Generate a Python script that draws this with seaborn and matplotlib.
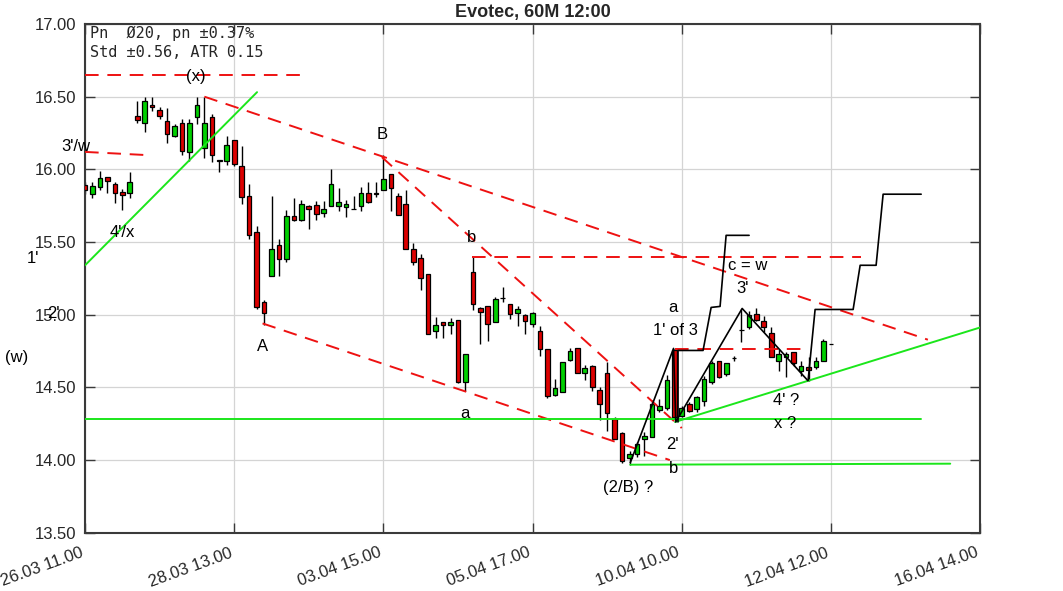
import matplotlib
matplotlib.use("Agg")
import pandas as pd
import matplotlib.pyplot as plt
import seaborn as sns

# 60M candles, bar index 0..100
opens = [15.89, 15.83, 15.88, 15.945, 15.90, 15.845, 15.835, 16.365, 16.32, 16.445,
         16.41, 16.335, 16.23, 16.32, 16.12, 16.36, 16.15, 16.36, 16.065, 16.06,
         16.20, 16.02, 15.82, 15.57, 15.09, 15.265, 15.48, 15.38, 15.68, 15.65,
         15.75, 15.755, 15.70, 15.75, 15.75, 15.74, 15.728, 15.75, 15.84, 15.837,
         15.855, 15.97, 15.815, 15.76, 15.45, 15.39, 15.28, 14.885, 14.947, 14.93,
         14.966, 14.535, 15.297, 15.044, 15.057, 14.952, 15.115, 15.074, 15.009, 14.998,
         14.936, 14.89, 14.765, 14.445, 14.468, 14.685, 14.772, 14.60, 14.644, 14.48,
         14.598, 14.285, 14.183, 14.011, 14.041, 14.148, 14.16, 14.342, 14.36, 14.758,
         14.305, 14.385, 14.351, 14.408, 14.539, 14.683, 14.592, 14.70, 14.895, 14.913,
         15.005, 14.959, 14.872, 14.679, 14.706, 14.741, 14.615, 14.638, 14.638, 14.683,
         14.798]
highs = [15.91, 15.91, 15.99, 15.95, 15.91, 15.865, 15.98, 16.47, 16.50, 16.50,
         16.43, 16.42, 16.315, 16.345, 16.345, 16.50, 16.50, 16.38, 16.065, 16.23,
         16.20, 16.16, 15.90, 15.61, 15.10, 15.82, 15.52, 15.72, 15.80, 15.79,
         15.755, 15.78, 15.78, 16.00, 15.87, 15.79, 15.82, 15.88, 15.91, 15.915,
         16.10, 15.97, 15.835, 15.86, 15.49, 15.42, 15.28, 14.986, 14.952, 14.98,
         14.966, 14.733, 15.395, 15.05, 15.06, 15.124, 15.19, 15.074, 15.057, 15.005,
         15.016, 14.92, 14.765, 14.555, 14.678, 14.77, 14.772, 14.655, 14.655, 14.502,
         14.674, 14.297, 14.194, 14.064, 14.126, 14.194, 14.411, 14.422, 14.582, 14.765,
         14.374, 14.397, 14.443, 14.58, 14.683, 14.683, 14.665, 14.718, 15.04, 15.023,
         15.046, 14.993, 14.913, 14.764, 14.741, 14.741, 14.683, 14.711, 14.706, 14.833,
         14.798]
lows = [15.83, 15.80, 15.86, 15.835, 15.77, 15.72, 15.80, 16.32, 16.255, 16.40,
        16.345, 16.18, 16.22, 16.10, 16.055, 16.31, 16.08, 16.05, 15.98, 16.03,
        16.02, 15.76, 15.52, 15.04, 14.93, 15.265, 15.265, 15.36, 15.645, 15.645,
        15.59, 15.65, 15.67, 15.75, 15.71, 15.675, 15.725, 15.715, 15.77, 15.81,
        15.855, 15.715, 15.685, 15.455, 15.345, 15.17, 14.865, 14.84, 14.837, 14.867,
        14.533, 14.476, 15.03, 14.80, 14.82, 14.952, 15.085, 14.97, 14.924, 14.867,
        14.917, 14.715, 14.43, 14.44, 14.468, 14.68, 14.598, 14.55, 14.475, 14.274,
        14.20, 14.148, 13.98, 13.966, 14.02, 14.027, 14.16, 14.33, 14.347, 14.28,
        14.294, 14.328, 14.328, 14.374, 14.523, 14.564, 14.58, 14.683, 14.81, 14.90,
        14.959, 14.878, 14.706, 14.615, 14.569, 14.649, 14.58, 14.546, 14.626, 14.679,
        14.798]
closes = [15.86, 15.885, 15.94, 15.92, 15.835, 15.825, 15.91, 16.34, 16.47, 16.43,
          16.365, 16.24, 16.30, 16.125, 16.32, 16.44, 16.32, 16.10, 16.06, 16.17,
          16.04, 15.81, 15.545, 15.05, 15.01, 15.45, 15.38, 15.68, 15.65, 15.76,
          15.725, 15.695, 15.725, 15.90, 15.775, 15.76, 15.726, 15.835, 15.775, 15.833,
          15.935, 15.87, 15.685, 15.455, 15.36, 15.255, 14.867, 14.93, 14.93, 14.947,
          14.535, 14.733, 15.074, 15.016, 14.936, 15.108, 15.113, 15.005, 15.039, 14.959,
          15.009, 14.765, 14.44, 14.495, 14.678, 14.753, 14.60, 14.632, 14.502, 14.388,
          14.326, 14.148, 13.995, 14.041, 14.11, 14.164, 14.388, 14.37, 14.553, 14.293,
          14.358, 14.34, 14.431, 14.557, 14.665, 14.573, 14.665, 14.70, 14.893, 14.998,
          14.963, 14.913, 14.706, 14.729, 14.729, 14.665, 14.644, 14.619, 14.683, 14.821,
          14.798]

tick_pos = [0, 20, 40, 60, 80, 100, 120]
tick_labels = ["26.03 11.00", "28.03 13.00", "03.04 15.00", "05.04 17.00",
               "10.04 10.00", "12.04 12.00", "16.04 14.00"]
y_ticks = [13.5, 14.0, 14.5, 15.0, 15.5, 16.0, 16.5, 17.0]

# red dashed channel / level lines: (bar, price) points
x_level = [(0, 16.649), (28.8, 16.649)]
w_level = [(0, 16.12), (8.7, 16.097)]
upper_chan = [(16, 16.50), (113.0, 14.828)]
b_chan = [(39.8, 16.084), (80.0, 14.22)]
lower_chan = [(23.8, 14.94), (78.4, 14.0)]
b_level = [(51.9, 15.395), (104.0, 15.395)]
one_level = [(79.1, 14.762), (97.1, 14.762)]

# green support lines
g_rise = [(0, 15.34), (23.06, 16.531)]
g_flat = [(0, 14.279), (112.1, 14.279)]
g_low = [(73.1, 13.968), (116.0, 13.975)]
g_trend = [(79.1, 14.262), (120.0, 14.912)]

# black wave count and projections
zigzag = [(73.1, 13.982), (78.9, 14.768), (79.2, 14.262), (88.1, 15.043), (96.9, 14.547)]
proj_1 = [(79.5, 14.262), (79.5, 14.754), (82.86, 14.754), (83.94, 15.05),
          (85.14, 15.057), (85.95, 15.546), (89.03, 15.546)]
proj_2 = [(96.94, 14.547), (97.88, 15.036), (102.98, 15.036), (103.92, 15.34),
          (106.06, 15.34), (107.0, 15.829), (112.1, 15.829)]

wave_labels = [("(x)", 14.88, 16.642), ("3'/w", -1.2, 16.159), ("4'/x", 4.96, 15.567),
               ("1'", -6.97, 15.388), ("2'", -4.29, 15.009), ("(w)", -9.12, 14.706),
               ("A", 23.73, 14.781), ("B", 39.82, 16.242), ("b", 51.76, 15.532),
               ("a", 50.95, 14.32), ("a", 78.84, 15.05), ("1' of 3", 79.11, 14.892),
               ("c = w", 88.9, 15.34), ("3'", 88.1, 15.181), ("4' ?", 94.0, 14.41),
               ("x ?", 93.86, 14.251), ("2'", 78.71, 14.106), ("b", 78.84, 13.941),
               ("(2/B) ?", 72.81, 13.81)]

sns.set_theme(style="whitegrid")
plt.rcParams['font.family'] = ['Liberation Sans', 'DejaVu Sans']

df = pd.DataFrame({'open': opens, 'high': highs, 'low': lows, 'close': closes})
df['bar'] = range(len(df))
df['color'] = ['#00d000' if c > o else '#dc0000' for o, c in zip(df.open, df.close)]

fig = plt.figure(figsize=(10.63, 5.91), dpi=100)
ax = fig.add_axes([0.080, 0.0986, 0.842, 0.8608])

ax.vlines(df.bar, df.low, df.high, color='black', lw=1, zorder=2)
ax.bar(df.bar, df.close - df.open, bottom=df.open, width=0.62, color=df.color,
       edgecolor='black', linewidth=0.9, zorder=3)

red_dash = (0, (7, 4.5))
for seg in [x_level, w_level, upper_chan, b_chan, lower_chan, b_level, one_level]:
    xs, ys = zip(*seg)
    sns.lineplot(x=list(xs), y=list(ys), ax=ax, color='#ee1111', lw=1.4,
                 linestyle=red_dash, sort=False, estimator=None, zorder=4)
for seg in [g_rise, g_flat, g_low, g_trend]:
    xs, ys = zip(*seg)
    sns.lineplot(x=list(xs), y=list(ys), ax=ax, color='#1be61b', lw=1.4,
                 sort=False, estimator=None, zorder=4)
for seg in [zigzag, proj_1, proj_2]:
    xs, ys = zip(*seg)
    sns.lineplot(x=list(xs), y=list(ys), ax=ax, color='black', lw=1.2,
                 sort=False, estimator=None, zorder=5)

for txt, xx, yy in wave_labels:
    ax.text(xx, yy, txt, fontsize=12, ha='center', va='center', color='black',
            clip_on=False, zorder=6)

ax.text(0.005, 0.9823, "Pn  Ø20, pn ±0.37%", transform=ax.transAxes,
        family='DejaVu Sans Mono', fontsize=11, va='center', ha='left')
ax.text(0.005, 0.9430, "Std ±0.56, ATR 0.15", transform=ax.transAxes,
        family='DejaVu Sans Mono', fontsize=11, va='center', ha='left')

ax.set_xlim(0, 120)
ax.set_ylim(13.5, 17.0)
ax.set_xticks(tick_pos)
ax.set_xticklabels(tick_labels, rotation=20, ha='right')
ax.set_yticks(y_ticks)
ax.set_yticklabels([f"{v:.2f}" for v in y_ticks])
ax.set_xlabel('')
ax.set_ylabel('')
ax.set_title("Evotec, 60M 12:00", fontsize=13, fontweight='bold', pad=5)

ax.grid(True, color='#d4d4d4', lw=0.9)
ax.set_axisbelow(True)
for s in ax.spines.values():
    s.set_color('#3a3a3a')
    s.set_linewidth(1.5)
ax.tick_params(axis='both', direction='in', length=7, width=1, color='#3a3a3a',
               top=True, right=True, bottom=True, left=True, labelsize=12,
               labelcolor='#262626')
ax.tick_params(axis='y', pad=6)
ax.tick_params(axis='x', pad=9)

fig.savefig('out.png', dpi=100)
